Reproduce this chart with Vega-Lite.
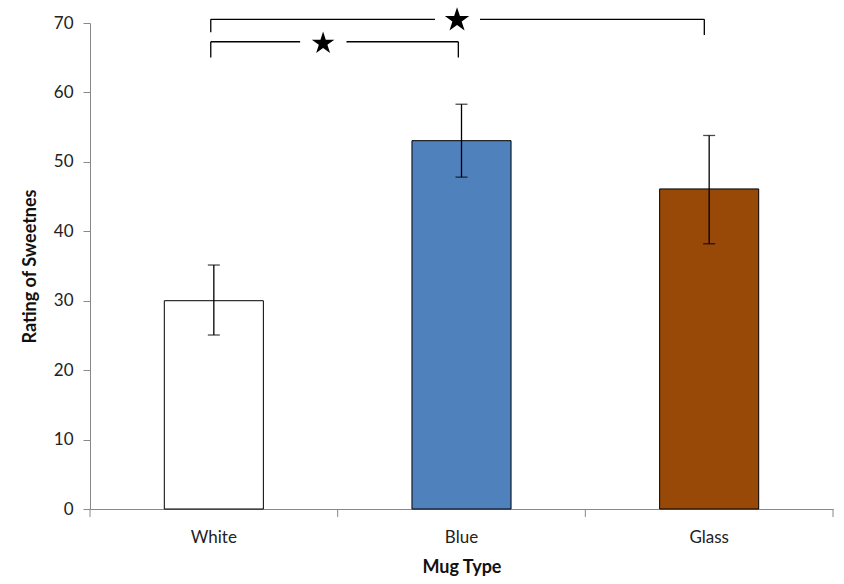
{
  "$schema": "https://vega.github.io/schema/vega-lite/v6.json",
  "autosize": "none",
  "padding": {"left": 90, "top": 23, "right": 11, "bottom": 75},
  "width": 743,
  "height": 486,
  "background": "white",
  "config": {
    "font": "Lato",
    "view": {"stroke": null},
    "axis": {
      "domainColor": "#888888",
      "tickColor": "#888888",
      "labelColor": "#222222",
      "titleColor": "#111111",
      "labelFontSize": 17,
      "titleFontSize": 18,
      "titleFontWeight": "bold",
      "grid": false
    }
  },
  "data": {
    "values": [
      {"mug": "White", "rating": 30.0, "lo": 25.06, "hi": 35.14},
      {"mug": "Blue", "rating": 53.05, "lo": 47.8, "hi": 58.3},
      {"mug": "Glass", "rating": 46.1, "lo": 38.2, "hi": 53.8}
    ]
  },
  "encoding": {
    "x": {
      "field": "mug",
      "type": "nominal",
      "title": "Mug Type",
      "scale": {"domain": ["White", "Blue", "Glass"], "paddingInner": 0.6, "paddingOuter": 0.3},
      "axis": {
        "labelAngle": 0,
        "ticks": false,
        "tickSize": 0,
        "labelPadding": 20,
        "titlePadding": 13
      }
    },
    "y": {
      "type": "quantitative",
      "title": "Rating of Sweetnes",
      "scale": {"domain": [0, 70], "nice": false},
      "axis": {
        "values": [0, 10, 20, 30, 40, 50, 60, 70],
        "tickSize": 7,
        "labelPadding": 10,
        "titlePadding": 14
      }
    }
  },
  "layer": [
    {
      "mark": {"type": "bar", "stroke": "black", "strokeWidth": 1},
      "encoding": {
        "y": {"field": "rating"},
        "color": {
          "field": "mug",
          "type": "nominal",
          "scale": {
            "domain": ["White", "Blue", "Glass"],
            "range": ["#ffffff", "#4f81bd", "#984807"]
          },
          "legend": null
        }
      }
    },
    {
      "mark": {"type": "rule", "color": "black", "strokeWidth": 1.3},
      "encoding": {
        "y": {"field": "lo"},
        "y2": {"field": "hi"}
      }
    },
    {
      "mark": {"type": "tick", "color": "black", "size": 12, "thickness": 1.3},
      "encoding": {"y": {"field": "lo"}}
    },
    {
      "mark": {"type": "tick", "color": "black", "size": 12, "thickness": 1.3},
      "encoding": {"y": {"field": "hi"}}
    },
    {
      "data": {"values": [
        {"mug": "White", "y": 0, "y2": -1.15},
        {"mug": "Blue", "y": 0, "y2": -1.15},
        {"mug": "Glass", "y": 0, "y2": -1.15}
      ]},
      "mark": {"type": "rule", "color": "#888888", "strokeWidth": 1},
      "encoding": {
        "x": {"field": "mug", "type": "nominal", "bandPosition": -0.75},
        "y": {"field": "y"},
        "y2": {"field": "y2"}
      }
    },
    {
      "data": {"values": [{"mug": "Glass", "y": 0, "y2": -1.15}]},
      "mark": {"type": "rule", "color": "#888888", "strokeWidth": 1},
      "encoding": {
        "x": {"field": "mug", "type": "nominal", "bandPosition": 1.75},
        "y": {"field": "y"},
        "y2": {"field": "y2"}
      }
    },
    {
      "data": {"values": [{"mug": "White", "to": "White", "y": 67.3}]},
      "mark": {"type": "rule", "color": "black", "strokeWidth": 1.3},
      "encoding": {
        "x": {"field": "mug", "type": "nominal", "bandPosition": 0.469},
        "x2": {"field": "to", "bandPosition": 1.371},
        "y": {"field": "y"}
      }
    },
    {
      "data": {"values": [{"mug": "White", "to": "Blue", "y": 67.3}]},
      "mark": {"type": "rule", "color": "black", "strokeWidth": 1.3},
      "encoding": {
        "x": {"field": "mug", "type": "nominal", "bandPosition": 1.839},
        "x2": {"field": "to", "bandPosition": 0.468},
        "y": {"field": "y"}
      }
    },
    {
      "data": {"values": [{"mug": "White", "y": 67.3, "y2": 65.03}]},
      "mark": {"type": "rule", "color": "black", "strokeWidth": 1.3},
      "encoding": {
        "x": {"field": "mug", "type": "nominal", "bandPosition": 0.469},
        "y": {"field": "y"},
        "y2": {"field": "y2"}
      }
    },
    {
      "data": {"values": [{"mug": "Blue", "y": 67.3, "y2": 65.03}]},
      "mark": {"type": "rule", "color": "black", "strokeWidth": 1.3},
      "encoding": {
        "x": {"field": "mug", "type": "nominal", "bandPosition": 0.468},
        "y": {"field": "y"},
        "y2": {"field": "y2"}
      }
    },
    {
      "data": {"values": [{"mug": "White", "to": "Blue", "y": 70.53}]},
      "mark": {"type": "rule", "color": "black", "strokeWidth": 1.3},
      "encoding": {
        "x": {"field": "mug", "type": "nominal", "bandPosition": 0.469},
        "x2": {"field": "to", "bandPosition": 0.232},
        "y": {"field": "y"}
      }
    },
    {
      "data": {"values": [{"mug": "Blue", "to": "Glass", "y": 70.53}]},
      "mark": {"type": "rule", "color": "black", "strokeWidth": 1.3},
      "encoding": {
        "x": {"field": "mug", "type": "nominal", "bandPosition": 0.687},
        "x2": {"field": "to", "bandPosition": 0.451},
        "y": {"field": "y"}
      }
    },
    {
      "data": {"values": [{"mug": "White", "y": 70.53, "y2": 68.66}]},
      "mark": {"type": "rule", "color": "black", "strokeWidth": 1.3},
      "encoding": {
        "x": {"field": "mug", "type": "nominal", "bandPosition": 0.469},
        "y": {"field": "y"},
        "y2": {"field": "y2"}
      }
    },
    {
      "data": {"values": [{"mug": "Glass", "y": 70.53, "y2": 68.27}]},
      "mark": {"type": "rule", "color": "black", "strokeWidth": 1.3},
      "encoding": {
        "x": {"field": "mug", "type": "nominal", "bandPosition": 0.451},
        "y": {"field": "y"},
        "y2": {"field": "y2"}
      }
    },
    {
      "data": {"values": [{"mug": "White", "y": 67.06}]},
      "mark": {
        "type": "point",
        "shape": "M0,-1L0.2245,-0.309L0.951,-0.309L0.363,0.118L0.588,0.809L0,0.382L-0.588,0.809L-0.363,0.118L-0.951,-0.309L-0.2245,-0.309Z",
        "filled": true,
        "color": "black",
        "opacity": 1,
        "size": 560
      },
      "encoding": {
        "x": {"field": "mug", "type": "nominal", "bandPosition": 1.603},
        "y": {"field": "y"}
      }
    },
    {
      "data": {"values": [{"mug": "Blue", "y": 70.42}]},
      "mark": {
        "type": "point",
        "shape": "M0,-1L0.2245,-0.309L0.951,-0.309L0.363,0.118L0.588,0.809L0,0.382L-0.588,0.809L-0.363,0.118L-0.951,-0.309L-0.2245,-0.309Z",
        "filled": true,
        "color": "black",
        "opacity": 1,
        "size": 660
      },
      "encoding": {
        "x": {"field": "mug", "type": "nominal", "bandPosition": 0.455},
        "y": {"field": "y"}
      }
    }
  ]
}
